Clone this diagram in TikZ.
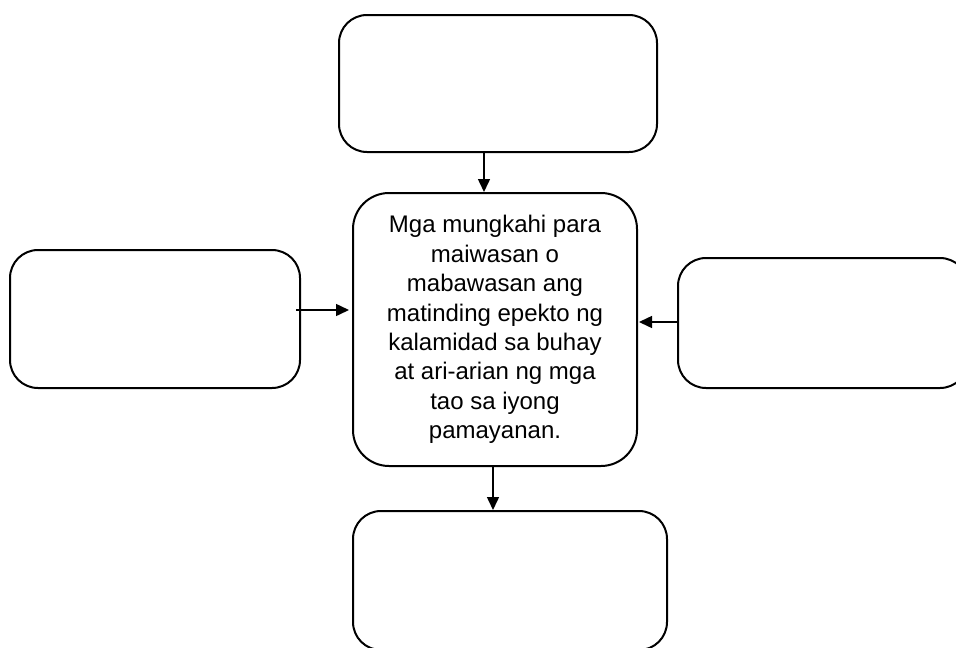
\documentclass[tikz,border=0pt]{standalone}
\usepackage{fontspec}
\setmainfont{Liberation Sans}
\usetikzlibrary{arrows.meta}

\tikzset{
	box/.style={draw, line width=2pt, rounded corners=28pt},
	arr/.style={line width=1.5pt, -{Triangle[length=13pt,width=12pt]}}
}

\begin{document}
\begin{tikzpicture}[x=1pt, y=-1pt]
	\useasboundingbox (0,0) rectangle (956,648);
	\clip (0,0) rectangle (956,648);
	\node[box, minimum width=318pt, minimum height=137pt] (top) at (498,83.5) {};
	\node[box, rounded corners=36pt, minimum width=284pt, minimum height=273pt, align=center, font=\fontsize{24}{29.4}\selectfont] (mid) at (495,329.5) {Mga mungkahi para\\maiwasan o\\mabawasan ang\\matinding epekto ng\\kalamidad sa buhay\\at ari-arian ng mga\\tao sa iyong\\pamayanan.};
	\node[box, minimum width=290pt, minimum height=138pt] (left) at (155,319) {};
	\node[box, minimum width=290pt, minimum height=130pt] (right) at (823,323) {};
	\node[box, minimum width=314pt, minimum height=139pt] (bot) at (510,580.5) {};
	\draw[arr] ([xshift=-14pt]top.south) -- ([xshift=-11pt]mid.north);
	\draw[arr] ([xshift=-2pt]mid.south) -- ([xshift=-17pt]bot.north);
	\draw[arr] ([xshift=-5pt,yshift=9pt]left.east) -- ([xshift=-3pt,yshift=19.5pt]mid.west);
	\draw[arr] ([yshift=1pt]right.west) -- ([xshift=1pt,yshift=7.5pt]mid.east);
\end{tikzpicture}
\end{document}
